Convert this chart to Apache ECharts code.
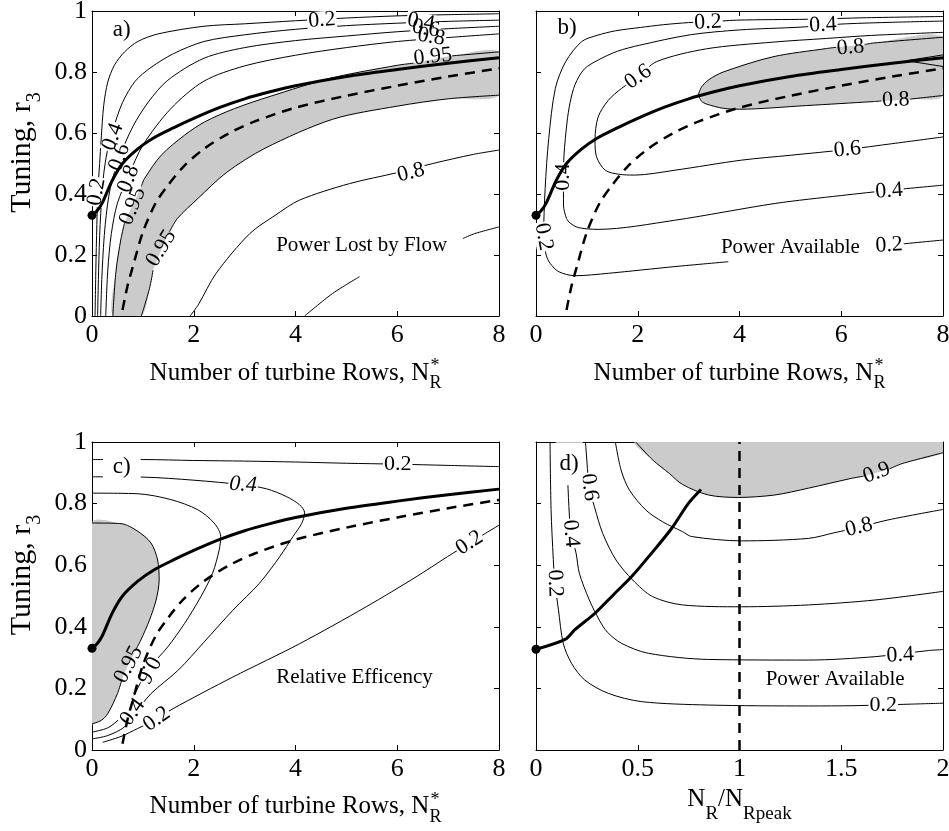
<!DOCTYPE html>
<html>
<head>
<meta charset="utf-8">
<script src="https://cdn.jsdelivr.net/npm/echarts@6/dist/echarts.min.js"></script>
<style>
  html, body { margin: 0; padding: 0; background: #fff; }
  #chart { width: 949px; height: 831px; }
</style>
</head>
<body>
<div id="chart"></div>
<script>
  'use strict'
  var FONT = '"Liberation Serif", "Times New Roman", serif';
  var GREY = '#cbcbcb';

  /*----- tick values -----*/
  var rowTicks = [0, 2, 4, 6, 8];
  var ratioTicks = [0, 0.5, 1, 1.5, 2];
  var tuneTicks = [0, 0.2, 0.4, 0.6, 0.8, 1];

  /*----- curves shared by a), b), c) : [N*_R, r3] -----*/
  var optimumLine = [[0,0.33],[0.1,0.345],[0.2,0.37],[0.4,0.445],[0.6,0.5],[0.9,0.548],[1.2,0.583],[1.6,0.617],[2,0.648],[2.5,0.683],[3,0.712],[3.5,0.735],[4,0.755],[5,0.785],[6,0.808],[7,0.829],[8,0.847]];
  var peakLine = [[0.6,0.02],[0.7,0.1],[0.8,0.16],[1,0.275],[1.25,0.37],[1.5,0.43],[1.8,0.49],[2.2,0.548],[2.7,0.6],[3.2,0.638],[4,0.683],[5,0.722],[6,0.755],[7,0.785],[8,0.812]];
  var startPoint = [[0, 0.33]];

  /*----- a) power lost by flow -----*/
  var lost02 = [[0.06,0],[0.075,0.15],[0.095,0.3],[0.115,0.41],[0.15,0.5],[0.18,0.58],[0.23,0.69],[0.31,0.767],[0.44,0.822],[0.64,0.866],[0.9,0.9],[1.3,0.925],[2.2,0.95],[3,0.958],[4,0.968],[5,0.977],[6,0.984],[7,0.988],[8,0.991]];
  var lost04 = [[0.11,0],[0.13,0.15],[0.16,0.3],[0.22,0.45],[0.3,0.54],[0.41,0.61],[0.6,0.7],[0.85,0.77],[1.16,0.815],[1.6,0.86],[2.2,0.9],[3,0.922],[4,0.94],[5,0.952],[6,0.96],[7,0.966],[8,0.97]];
  var lost06 = [[0.17,0],[0.2,0.15],[0.26,0.3],[0.36,0.42],[0.54,0.52],[0.8,0.62],[1.1,0.7],[1.49,0.773],[2.2,0.845],[3,0.88],[4,0.903],[5,0.918],[6,0.932],[7,0.942],[8,0.95]];
  var lost08 = [[0.27,0],[0.31,0.15],[0.38,0.27],[0.5,0.37],[0.72,0.46],[1,0.56],[1.55,0.68],[2.2,0.77],[3,0.82],[4,0.855],[5,0.88],[6,0.9],[7,0.913],[8,0.925]];
  var lost095Upper = [
    [[0.41,0],[0.47,0.145],[0.57,0.254],[0.64,0.305]],
    [[0.97,0.425],[1.03,0.45],[1.36,0.527],[1.82,0.593],[2.21,0.636],[2.8,0.68],[3.5,0.72],[4.7,0.78],[6,0.822],[6.32,0.829]],
    [[7.08,0.853],[8,0.866]]
  ];
  var lost095Lower = [
    [[0.97,0],[1.13,0.09],[1.2,0.15]],
    [[1.52,0.275],[1.68,0.32],[2.08,0.385],[2.64,0.47],[3.4,0.55],[4.73,0.645],[6,0.688],[7,0.712],[8,0.724]]
  ];
  var lost08Low = [[1.93,0],[2.1,0.04],[2.44,0.14],[3.1,0.27],[3.6,0.33],[4.08,0.38],[5.06,0.434],[6,0.47],[6.7,0.5],[7.5,0.53],[8,0.544]];
  var lost06Low = [[[4.18,0],[4.73,0.074],[5.26,0.129]], [[7.29,0.254],[7.52,0.27],[8,0.292]]];
  var lostLabels = [[4.52,0.97,'0.2',4],[6.47,0.964,'0.4',-10],[6.56,0.942,'0.6',-10],[6.67,0.915,'0.8',-10],[0.09,0.407,'0.2',80],[0.41,0.587,'0.4',70],[0.54,0.52,'0.6',70],[0.72,0.45,'0.8',70],[6.27,0.47,'0.8',14]];
  var lostEdgeLabels = [[0.8,0.36,'0.95',68],[1.36,0.222,'0.95',58],[6.7,0.85,'0.95',6]];

  /*----- b) power available -----*/
  var avail02 = [
    [[8,0.982],[6.5,0.978],[5.35,0.973],[3.94,0.97],[3.38,0.964],[3,0.962],[2.5,0.955],[2.05,0.946],[1.56,0.935],[1.2,0.92],[0.9,0.9],[0.58,0.833],[0.38,0.746],[0.25,0.582],[0.18,0.418],[0.15,0.26],[0.2,0.2],[0.28,0.172],[0.45,0.145],[0.77,0.132],[1.42,0.14],[2.73,0.162],[3.78,0.178]],
    [[6.7,0.227],[6.94,0.232],[8,0.249]]
  ];
  var avail04 = [[8,0.967],[7,0.963],[6.1,0.958],[5.65,0.953],[5.19,0.947],[4,0.938],[3.03,0.922],[2.04,0.888],[1.6,0.868],[1.23,0.84],[0.95,0.81],[0.77,0.76],[0.67,0.7],[0.61,0.636],[0.55,0.527],[0.54,0.456],[0.54,0.364],[0.6,0.32],[0.67,0.305],[0.83,0.29],[1.22,0.284],[2.73,0.314],[4.7,0.369],[6,0.395],[7,0.413],[8,0.429]];
  var avail06 = [[8,0.93],[6.6,0.92],[5.71,0.91],[4.66,0.898],[3.35,0.876],[2.37,0.834],[2.01,0.784],[1.68,0.746],[1.42,0.707],[1.22,0.652],[1.16,0.576],[1.19,0.522],[1.36,0.478],[1.62,0.465],[1.94,0.462],[2.73,0.478],[4.04,0.511],[5,0.527],[6.12,0.546],[7,0.565],[8,0.587]];
  var avail08Top = [
    [[3.19,0.725],[3.25,0.75],[3.4,0.775],[3.68,0.8],[4.66,0.85],[5.71,0.877],[5.9,0.881]],
    [[6.46,0.89],[6.63,0.895],[8,0.914]]
  ];
  var avail08Bottom = [
    [[3.19,0.725],[3.25,0.705],[3.35,0.695],[3.68,0.681],[4,0.678],[5.32,0.69],[6.63,0.703],[6.79,0.705]],
    [[7.35,0.711],[8,0.723]]
  ];
  var availInner = [[8,0.856],[7.28,0.837],[8,0.818]];
  var availLabels = [[3.38,0.963,'0.2',3],[5.64,0.954,'0.4',3],[2.01,0.784,'0.6',35],[6.12,0.546,'0.6',5],[6.94,0.41,'0.4',4],[6.94,0.232,'0.2',3],[0.54,0.456,'0.4',90],[0.15,0.26,'0.2',-80]];
  var availEdgeLabels = [[6.18,0.88,'0.8',5],[7.07,0.708,'0.8',2]];

  /*----- c) relative efficiency -----*/
  var eff02Top = [[0,0.943],[1,0.943],[2,0.94],[3,0.938],[4,0.935],[5,0.931],[6,0.928],[7,0.924],[8,0.92]];
  var eff04 = [[0,0.887],[1,0.886],[2,0.876],[2.97,0.861],[3.43,0.848],[3.82,0.823],[4.08,0.796],[4.18,0.77],[4.12,0.735],[3.95,0.693],[3.7,0.63],[3.29,0.541],[2.77,0.454],[2.2,0.35],[1.7,0.26],[1.16,0.183],[0.85,0.12],[0.64,0.075],[0.31,0.047],[0,0.036]];
  var eff06 = [[0,0.834],[0.9,0.832],[1.55,0.813],[2.08,0.78],[2.4,0.737],[2.53,0.693],[2.5,0.65],[2.37,0.574],[2.14,0.498],[1.82,0.411],[1.49,0.335],[1.1,0.26],[0.8,0.17],[0.57,0.107],[0.31,0.072],[0,0.058]];
  var eff095 = [
    [[0,0.737],[0.57,0.735],[0.9,0.71],[1.16,0.672],[1.29,0.617],[1.32,0.552],[1.26,0.487],[1.13,0.422],[0.96,0.357],[0.85,0.322]],
    [[0.59,0.23],[0.5,0.183],[0.31,0.118],[0.18,0.096],[0,0.085]]
  ];
  var eff02Low = [[0.21,0.025],[0.57,0.044],[0.9,0.07],[1.27,0.1],[1.59,0.134],[2.77,0.237],[4.08,0.345],[5.39,0.465],[6.37,0.562],[6.99,0.628],[7.42,0.672],[8,0.73]];
  var effLabels = [[6.01,0.929,'0.2',0],[2.97,0.861,'0.4',-3,'italic'],[1.1,0.261,'0.6',-118],[0.8,0.123,'0.4',55],[1.27,0.1,'0.2',35],[7.42,0.672,'0.2',33]];
  var effEdgeLabels = [[0.72,0.277,'0.95',62]];

  /*----- d) power available vs N_R/N_Rpeak -----*/
  var optimumLineD = [[0,0.327],[0.143,0.359],[0.19,0.39],[0.29,0.444],[0.388,0.509],[0.47,0.563],[0.568,0.639],[0.667,0.72],[0.749,0.801],[0.811,0.846]];
  var peakLineD = [[1,0],[1,1]];
  var startPointD = [[0, 0.327]];
  var ratio02 = [[0.069,1],[0.074,0.781],[0.085,0.619],[0.093,0.541],[0.11,0.457],[0.134,0.346],[0.175,0.281],[0.24,0.227],[0.355,0.184],[0.519,0.157],[0.847,0.146],[1.338,0.143],[1.568,0.144],[1.846,0.149],[2,0.152]];
  var ratio04 = [[0.152,1],[0.156,0.877],[0.164,0.763],[0.172,0.703],[0.197,0.639],[0.213,0.574],[0.262,0.487],[0.311,0.422],[0.35,0.383],[0.421,0.346],[0.552,0.314],[0.847,0.294],[1.338,0.292],[1.666,0.303],[1.93,0.323],[2,0.326]];
  var ratio06 = [[0.243,1],[0.246,0.974],[0.262,0.853],[0.287,0.79],[0.328,0.703],[0.393,0.617],[0.475,0.552],[0.573,0.498],[0.72,0.471],[1.01,0.465],[1.338,0.471],[1.666,0.487],[2,0.515]];
  var ratio08 = [[0.39,1],[0.418,0.909],[0.459,0.844],[0.54,0.779],[0.622,0.741],[0.72,0.709],[0.765,0.693],[1.01,0.679],[1.338,0.687],[1.47,0.706],[1.587,0.723],[1.73,0.747],[2,0.781]];
  var ratio09 = [
    [[0.49,1],[0.573,0.942],[0.655,0.898],[0.72,0.862],[0.847,0.828],[0.994,0.82],[1.174,0.828],[1.338,0.85],[1.55,0.882],[1.61,0.889]],
    [[1.738,0.913],[1.8,0.93],[2,0.965]]
  ];
  var ratioLabels = [[0.093,0.541,'0.2',-88],[0.172,0.703,'0.4',-85],[0.262,0.853,'0.6',-82],[1.587,0.723,'0.8',14],[1.79,0.308,'0.4',3],[1.707,0.144,'0.2',0]];
  var ratioEdgeLabels = [[1.674,0.9,'0.9',20]];

  /*----- panel tags and notes -----*/
  var tags = [[0, 0.585, 0.937, 'a)'], [1, 0.61, 0.943, 'b)'], [2, 0.585, 0.92, 'c)'], [3, 0.163, 0.929, 'd)']];
  var notes = [[0, 5.3, 0.231, 'Power Lost by Flow'], [1, 5.0, 0.225, 'Power Available'], [2, 5.16, 0.235, 'Relative Efficency'], [3, 1.47, 0.23, 'Power Available']];

  /*----- layout -----*/
  var grids = [
    { left: 92, top: 11, width: 407, height: 305 },
    { left: 536, top: 11, width: 407, height: 305 },
    { left: 92, top: 442, width: 407, height: 308 },
    { left: 536, top: 442, width: 407, height: 308 }
  ];

  function flat(segs) { return [].concat.apply([], segs); }

  function axisPair(gi, dim, ticks, showLabel) {
    var base = {
      gridIndex: gi, type: 'value', min: ticks[0], max: ticks[ticks.length - 1], interval: ticks[1] - ticks[0],
      axisLine: { onZero: false, lineStyle: { color: '#000', width: 1 } },
      axisTick: { inside: true, length: 5, lineStyle: { color: '#000', width: 1 } },
      splitLine: { show: false }
    };
    var first = Object.assign({}, base, {
      position: dim === 'x' ? 'bottom' : 'left',
      axisLabel: { show: showLabel, fontFamily: FONT, fontSize: 26, color: '#000', margin: dim === 'x' ? 6 : 5 }
    });
    var second = Object.assign({}, base, { position: dim === 'x' ? 'top' : 'right', axisLabel: { show: false } });
    return [first, second];
  }

  var xAxis = [].concat(axisPair(0, 'x', rowTicks, true), axisPair(1, 'x', rowTicks, true),
                        axisPair(2, 'x', rowTicks, true), axisPair(3, 'x', ratioTicks, true));
  var yAxis = [].concat(axisPair(0, 'y', tuneTicks, true), axisPair(1, 'y', tuneTicks, false),
                        axisPair(2, 'y', tuneTicks, true), axisPair(3, 'y', tuneTicks, false));

  var series = [];
  var HIDDEN = { color: 'rgba(0,0,0,0)', opacity: 1 };

  function shade(gi, pts) {
    series.push({
      type: 'custom', xAxisIndex: gi * 2, yAxisIndex: gi * 2, silent: true, z: 1, clip: true,
      data: [[pts[0][0], pts[0][1]]],
      renderItem: function (params, api) {
        return {
          type: 'polygon',
          shape: { points: pts.map(function (p) { return api.coord(p); }), smooth: 0.3 },
          style: { fill: GREY }
        };
      }
    });
  }

  function line(gi, pts, opts) {
    opts = opts || {};
    series.push({
      type: 'line', xAxisIndex: gi * 2, yAxisIndex: gi * 2, data: pts, silent: true,
      showSymbol: false, symbol: 'none', smooth: opts.smooth === undefined ? 0.3 : opts.smooth, z: opts.z || 2,
      lineStyle: { color: '#000', width: opts.width || 1, type: opts.dash || 'solid', cap: 'butt', opacity: 1 }
    });
  }

  function lines(gi, list) { list.forEach(function (pts) { line(gi, pts); }); }

  function contourLabels(gi, list, boxOnly, z) {
    series.push({
      type: 'scatter', xAxisIndex: gi * 2, yAxisIndex: gi * 2, silent: true, z: z,
      symbolSize: 1, itemStyle: HIDDEN,
      label: {
        show: true, position: 'inside', formatter: '{b}', fontFamily: FONT, fontSize: 22, lineHeight: 18,
        color: boxOnly ? 'rgba(0,0,0,0)' : '#000', opacity: 1, textBorderWidth: 0,
        backgroundColor: boxOnly ? '#fff' : 'transparent', padding: [0, 1]
      },
      data: list.map(function (l) {
        return { name: l[2], value: [l[0], l[1]], label: { rotate: l[3], fontStyle: l[4] || 'normal' } };
      })
    });
  }

  function marks(gi, solid, dashed, dot) {
    line(gi, solid, { width: 3, z: 5 });
    line(gi, dashed, { width: 2.5, dash: [10, 7], z: 5, smooth: gi === 3 ? 0 : 0.3 });
    series.push({
      type: 'scatter', xAxisIndex: gi * 2, yAxisIndex: gi * 2, silent: true, z: 6,
      symbolSize: 9, itemStyle: { color: '#000', opacity: 1 }, data: dot
    });
  }

  /* a) */
  shade(0, flat(lost095Upper).concat(flat(lost095Lower).reverse()));
  lines(0, [lost02, lost04, lost06, lost08, lost08Low]);
  lines(0, lost095Upper); lines(0, lost095Lower); lines(0, lost06Low);
  contourLabels(0, lostLabels, true, 3);
  contourLabels(0, lostLabels.concat(lostEdgeLabels), false, 4);
  marks(0, optimumLine, peakLine, startPoint);

  /* b) */
  shade(1, flat(avail08Top).concat(flat(avail08Bottom).reverse()));
  lines(1, avail02); lines(1, [avail04, avail06]);
  lines(1, avail08Top); lines(1, avail08Bottom);
  line(1, availInner, { smooth: 0, z: 2 });
  contourLabels(1, availLabels, true, 3);
  contourLabels(1, availLabels.concat(availEdgeLabels), false, 4);
  marks(1, optimumLine, peakLine, startPoint);

  /* c) */
  shade(2, flat(eff095));
  lines(2, [eff02Top, eff04, eff06, eff02Low]);
  lines(2, eff095);
  contourLabels(2, effLabels, true, 3);
  contourLabels(2, effLabels.concat(effEdgeLabels), false, 4);
  marks(2, optimumLine, peakLine, startPoint);

  /* d) */
  shade(3, flat(ratio09).concat([[2, 1]]));
  lines(3, [ratio02, ratio04, ratio06, ratio08]);
  lines(3, ratio09);
  contourLabels(3, ratioLabels, true, 3);
  contourLabels(3, ratioLabels.concat(ratioEdgeLabels), false, 4);
  marks(3, optimumLineD, peakLineD, startPointD);

  /* tags and notes */
  tags.forEach(function (t) {
    var pad = t[3] === 'c)' ? [4, 10, 16, 10] : (t[3] === 'd)' ? [6, 4, 14, 4] : [0, 1]);
    series.push({
      type: 'scatter', xAxisIndex: t[0] * 2, yAxisIndex: t[0] * 2, silent: true, z: 6,
      symbolSize: 1, itemStyle: HIDDEN,
      label: { show: true, position: 'inside', formatter: '{b}', fontFamily: FONT, fontSize: 23, color: '#000',
               opacity: 1, textBorderWidth: 0, backgroundColor: '#fff', padding: pad },
      data: [{ name: t[3], value: [t[1], t[2]] }]
    });
  });
  notes.forEach(function (n) {
    series.push({
      type: 'scatter', xAxisIndex: n[0] * 2, yAxisIndex: n[0] * 2, silent: true, z: 6,
      symbolSize: 1, itemStyle: HIDDEN,
      label: { show: true, position: 'inside', formatter: '{b}', fontFamily: FONT, fontSize: 21, color: '#000',
               opacity: 1, textBorderWidth: 0, backgroundColor: '#fff', padding: [1, 3] },
      data: [{ name: n[3], value: [n[1], n[2]] }]
    });
  });

  /*----- axis titles -----*/
  var mctx = document.createElement('canvas').getContext('2d');
  function textWidth(s, size) { mctx.font = size + 'px ' + FONT; return mctx.measureText(s).width; }
  function txt(x, baseline, s, size) {
    return {
      type: 'text', x: x, y: baseline - 0.3375 * size, silent: true,
      style: { text: s, font: size + 'px ' + FONT, fill: '#000', textAlign: 'left', textVerticalAlign: 'middle', verticalAlign: 'middle' }
    };
  }
  function rowsTitle(cx, base) {
    var main = 'Number of turbine Rows, N';
    var w = textWidth(main, 25);
    var x0 = cx - (w + textWidth('R', 18)) / 2;
    return { type: 'group', silent: true, children: [txt(x0, base, main, 25), txt(x0 + w + 1, base - 9, '*', 18), txt(x0 + w, base + 8, 'R', 18)] };
  }
  function ratioTitle(cx, base) {
    var w1 = textWidth('N', 25), w2 = textWidth('R', 19), w3 = textWidth('/N', 25), w4 = textWidth('Rpeak', 19);
    var x0 = cx - (w1 + w2 + w3 + w4) / 2;
    return { type: 'group', silent: true, children: [
      txt(x0, base, 'N', 25), txt(x0 + w1, base + 12, 'R', 19),
      txt(x0 + w1 + w2, base, '/N', 25), txt(x0 + w1 + w2 + w3, base + 12, 'Rpeak', 19)
    ] };
  }
  function tuningTitle(bx, cy) {
    var w = textWidth('Tuning, r', 30), w3 = textWidth('3', 20);
    var x0 = -(w + w3) / 2;
    return { type: 'group', silent: true, x: bx, y: cy, rotation: Math.PI / 2, children: [
      txt(x0, 0, 'Tuning, r', 30), txt(x0 + w, 9, '3', 20)
    ] };
  }

  var graphic = [
    rowsTitle(grids[0].left + grids[0].width / 2, 381.5),
    rowsTitle(grids[1].left + grids[1].width / 2, 381.5),
    rowsTitle(grids[2].left + grids[2].width / 2, 815),
    ratioTitle(grids[3].left + grids[3].width / 2, 808),
    tuningTitle(32, grids[0].top + grids[0].height / 2 - 11),
    tuningTitle(32, grids[2].top + grids[2].height / 2 - 21)
  ];

  var chart = echarts.init(document.getElementById('chart'));
  chart.setOption({
    animation: false,
    backgroundColor: '#fff',
    grid: grids.map(function (g) { return Object.assign({ containLabel: false, outerBoundsMode: 'none' }, g); }),
    xAxis: xAxis,
    yAxis: yAxis,
    series: series,
    graphic: graphic
  });
</script>
</body>
</html>
